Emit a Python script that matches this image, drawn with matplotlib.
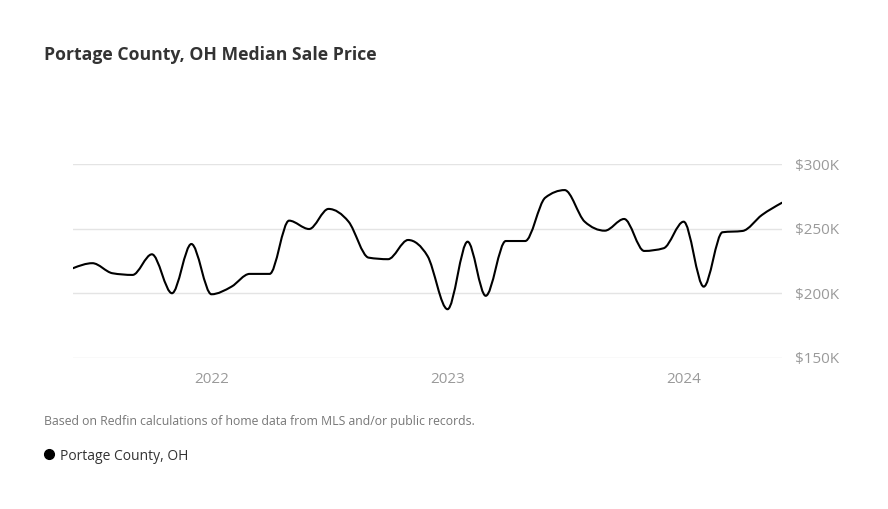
import matplotlib
matplotlib.use("Agg")
import matplotlib.pyplot as plt
import matplotlib.dates as mdates
from matplotlib.path import Path
from matplotlib.patches import PathPatch
from matplotlib.lines import Line2D
import numpy as np
import pandas as pd

# monthly median sale price, Jun 2021 .. Jun 2024
months = pd.date_range("2021-06-01", periods=37, freq="MS")
prices = [219400, 223300, 215500, 214200, 230200, 200000, 238200, 199200,
          205100, 215000, 215000, 256300, 249800, 265400, 255500, 227600,
          226400, 241300, 228900, 187600, 240000, 198000, 240500, 240500,
          274100, 280000, 255500, 248500, 257600, 232800, 234900, 255500,
          205100, 247300, 248300, 260700, 270200]
y_ticks = [150000, 200000, 250000, 300000]
y_labels = ["$150K", "$200K", "$250K", "$300K"]
x_ticks = pd.to_datetime(["2022-01-01", "2023-01-01", "2024-01-01"])
x_labels = ["2022", "2023", "2024"]

title = "Portage County, OH Median Sale Price"
note = "Based on Redfin calculations of home data from MLS and/or public records."
series_name = "Portage County, OH"

plt.rcParams['font.family'] = ['Open Sans', 'DejaVu Sans']

W, H = 888, 509
fig = plt.figure(figsize=(W/100, H/100), dpi=100)
ax = fig.add_axes([73/W, 1-357.7/H, (782-73)/W, (357.7-164.3)/H])


def monotone_path(x, y):
    # d3 curveMonotoneX style bezier path
    x = np.asarray(x, float); y = np.asarray(y, float)
    n = len(x)
    t = np.zeros(n)
    for i in range(1, n-1):
        h0 = x[i]-x[i-1]; h1 = x[i+1]-x[i]
        s0 = (y[i]-y[i-1])/h0; s1 = (y[i+1]-y[i])/h1
        p = (s0*h1 + s1*h0)/(h0+h1)
        t[i] = (np.sign(s0)+np.sign(s1))*min(abs(s0), abs(s1), 0.5*abs(p))
    h = x[1]-x[0]
    t[0] = (3*(y[1]-y[0])/h - t[1])/2
    h = x[-1]-x[-2]
    t[-1] = (3*(y[-1]-y[-2])/h - t[-2])/2
    verts = [(x[0], y[0])]
    codes = [Path.MOVETO]
    for i in range(n-1):
        dx = (x[i+1]-x[i])/3
        verts += [(x[i]+dx, y[i]+dx*t[i]), (x[i+1]-dx, y[i+1]-dx*t[i+1]), (x[i+1], y[i+1])]
        codes += [Path.CURVE4]*3
    return Path(verts, codes)


xs = mdates.date2num(months)
ax.add_patch(PathPatch(monotone_path(xs, prices), fill=False, edgecolor="black",
                       lw=1.5, capstyle="round", joinstyle="round", zorder=3))

ax.set_xlim(xs[0], xs[-1])
ax.set_ylim(150000, 300000)
ax.set_yticks(y_ticks)
ax.set_yticklabels(y_labels)
ax.set_xticks(mdates.date2num(x_ticks))
ax.set_xticklabels(x_labels)
ax.yaxis.tick_right()
ax.grid(axis="y", color="#e4e4e4", lw=1)
ax.tick_params(axis="both", length=0, labelcolor="#9a9a9a", labelsize=11)
ax.tick_params(axis="y", pad=9)
ax.tick_params(axis="x", pad=10)
for s in ax.spines.values():
    s.set_visible(False)
ax.set_axisbelow(True)

fig.text(44/W, 1-55/H, title, fontsize=12.7, fontweight="bold", color="#333333", va="center")
fig.text(44/W, 1-421/H, note, fontsize=8.8, color="#777777", va="center")
fig.add_artist(Line2D([49/W], [1-454/H], transform=fig.transFigure, marker="o",
                      markersize=7, color="black", lw=0))
fig.text(60/W, 1-456/H, series_name, fontsize=10, color="#333333", va="center")

fig.savefig("out.png", dpi=100, facecolor="white")
